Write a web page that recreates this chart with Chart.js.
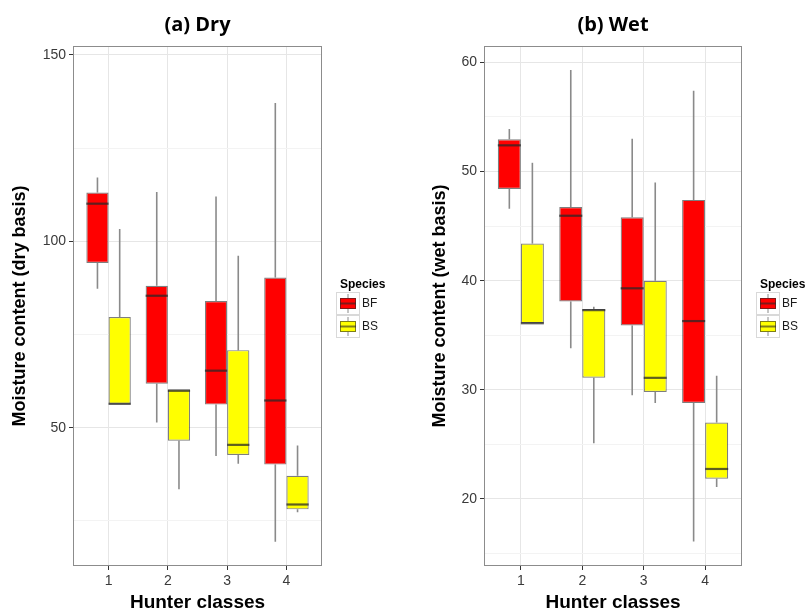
<!DOCTYPE html>
<html>
<head>
<meta charset="utf-8">
<script src="https://cdn.jsdelivr.net/npm/chart.js@4.4.0/dist/chart.umd.min.js"></script>
<style>
  body { margin: 0; background: #fff; }
  #wrap { position: relative; width: 805px; height: 612px; overflow: hidden; }
  canvas { position: absolute; top: 0; }
</style>
</head>
<body>
<div id="wrap">
  <canvas id="dry" width="400" height="612" style="left:0"></canvas>
  <canvas id="wet" width="385" height="612" style="left:420px"></canvas>
</div>
<script>
const hunterClasses = [1, 2, 3, 4];
const species = ["BF", "BS"];
const speciesColors = ["#ff0000", "#ffff00"];

// per hunter class: [lower whisker, Q1, median, Q3, upper whisker]
const dryBF = [[87.3, 94.2, 110.1, 113.1, 117.1], [51.4, 61.8, 85.4, 88.1, 113.2], [42.4, 56.2, 65.3, 84.0, 112.0], [19.4, 40.1, 57.3, 90.3, 137.1]];
const dryBS = [[56.4, 56.4, 56.4, 79.7, 103.3], [33.5, 46.5, 59.9, 60.3, 60.3], [40.3, 42.7, 45.4, 70.8, 96.1], [27.3, 28.1, 29.4, 37.1, 45.2]];
const wetBF = [[46.6, 48.4, 52.4, 52.95, 53.9], [33.8, 38.1, 45.95, 46.75, 59.3], [29.5, 35.9, 39.3, 45.8, 53.0], [16.1, 28.8, 36.3, 47.4, 57.4]];
const wetBS = [[36.1, 36.1, 36.1, 43.4, 50.8], [25.1, 31.1, 37.3, 37.4, 37.6], [28.8, 29.8, 31.1, 40.0, 49.0], [21.1, 21.85, 22.75, 27.0, 31.3]];

const dryTicks = [25, 50, 75, 100, 125, 150];
const wetTicks = [15, 20, 25, 30, 35, 40, 45, 50, 55, 60];

const sans = "'Liberation Sans', Arial, sans-serif";
const outline = "rgba(40,40,40,0.6)";

const boxExtras = {
  id: "boxExtras",
  beforeDatasetsDraw(chart) {
    const { ctx, scales: { y } } = chart;
    ctx.save();
    ctx.strokeStyle = "#8a8a8a";
    ctx.lineWidth = 1.6;
    chart.data.datasets.forEach((ds, di) => {
      chart.getDatasetMeta(di).data.forEach((bar, i) => {
        const s = ds.stats[i];
        ctx.beginPath();
        ctx.moveTo(bar.x, y.getPixelForValue(s[4]));
        ctx.lineTo(bar.x, y.getPixelForValue(s[3]));
        ctx.moveTo(bar.x, y.getPixelForValue(s[1]));
        ctx.lineTo(bar.x, y.getPixelForValue(s[0]));
        ctx.stroke();
      });
    });
    ctx.restore();
  },
  afterDatasetsDraw(chart, args, opts) {
    const { ctx, chartArea: a, scales: { y } } = chart;
    ctx.save();
    // medians
    ctx.strokeStyle = "rgba(40,40,40,0.75)";
    ctx.lineWidth = 2.2;
    chart.data.datasets.forEach((ds, di) => {
      chart.getDatasetMeta(di).data.forEach((bar, i) => {
        const py = y.getPixelForValue(ds.stats[i][2]);
        ctx.beginPath();
        ctx.moveTo(bar.x - bar.width / 2, py);
        ctx.lineTo(bar.x + bar.width / 2, py);
        ctx.stroke();
      });
    });
    // panel border
    ctx.strokeStyle = "#8c8c8c";
    ctx.lineWidth = 1;
    ctx.strokeRect(a.left + 0.5, a.top + 0.5, a.right - a.left - 1, a.bottom - a.top - 1);

    // panel title, centred over the plot area
    ctx.fillStyle = "#000";
    ctx.font = "bold 20px 'Open Sans', sans-serif";
    ctx.textAlign = "center";
    ctx.textBaseline = "middle";
    ctx.fillText(opts.title, (a.left + a.right) / 2, 25);

    // legend
    const x0 = a.right + 18;
    const cy = (a.top + a.bottom) / 2;
    ctx.font = "bold 12px " + sans;
    ctx.textBaseline = "alphabetic";
    ctx.textAlign = "left";
    ctx.fillText("Species", x0, cy - 18);
    species.forEach((name, k) => {
      const top = cy - 14 + k * 23;
      ctx.strokeStyle = "#d9d9d9";
      ctx.lineWidth = 1;
      ctx.strokeRect(x0 - 3.5, top + 0.5, 23, 22);
      ctx.strokeStyle = "#8a8a8a";
      ctx.beginPath();
      ctx.moveTo(x0 + 8, top + 2);
      ctx.lineTo(x0 + 8, top + 21);
      ctx.stroke();
      ctx.fillStyle = speciesColors[k];
      ctx.fillRect(x0, top + 6, 16, 11);
      ctx.strokeStyle = outline;
      ctx.strokeRect(x0 + 0.5, top + 6.5, 15, 10);
      ctx.lineWidth = 2;
      ctx.beginPath();
      ctx.moveTo(x0, top + 11.5);
      ctx.lineTo(x0 + 16, top + 11.5);
      ctx.stroke();
      ctx.fillStyle = "#1a1a1a";
      ctx.font = "12px " + sans;
      ctx.textBaseline = "middle";
      ctx.fillText(name, x0 + 22, top + 12);
      ctx.textBaseline = "alphabetic";
    });
    ctx.restore();
  }
};

function makeBoxChart(id, title, yTitle, series, yMin, yMax, ticks, majorStep, axisWidth, padRight) {
  const isMajor = (v) => v % majorStep === 0;
  return new Chart(document.getElementById(id), {
    type: "bar",
    data: {
      datasets: series.map((s, k) => ({
        label: species[k],
        data: hunterClasses.map((c, i) => ({ x: c, y: [s[i][1], s[i][3]] })),
        stats: s,
        backgroundColor: speciesColors[k],
        borderColor: outline,
        borderWidth: 1.2,
        borderSkipped: false,
        categoryPercentage: 0.75,
        barPercentage: 1
      }))
    },
    options: {
      responsive: false,
      animation: false,
      layout: { padding: { left: 0, top: 46, right: padRight, bottom: 0 } },
      plugins: {
        legend: { display: false },
        tooltip: { enabled: false },
        title: { display: false },
        boxExtras: { title: title }
      },
      scales: {
        x: {
          type: "linear",
          min: 0.4,
          max: 4.6,
          offset: false,
          afterBuildTicks: (s) => { s.ticks = hunterClasses.map((v) => ({ value: v })); },
          afterFit: (s) => { s.height = 46; },
          grid: { color: "#e6e6e6", offset: false, tickLength: 4, tickColor: "#333" },
          border: { display: false },
          ticks: { color: "#3a3a3a", font: { family: sans, size: 14 }, padding: 3 },
          title: {
            display: true,
            text: "Hunter classes",
            color: "#000",
            font: { family: sans, size: 19, weight: "bold", lineHeight: 1 },
            padding: { top: 0, bottom: 0 }
          }
        },
        y: {
          min: yMin,
          max: yMax,
          beginAtZero: false,
          afterBuildTicks: (s) => { s.ticks = ticks.map((v) => ({ value: v })); },
          afterFit: (s) => { s.width = axisWidth; },
          grid: {
            color: (c) => (c.tick && isMajor(c.tick.value) ? "#e6e6e6" : "#f3f3f3"),
            tickLength: 4,
            tickColor: (c) => (c.tick && isMajor(c.tick.value) ? "#333" : "rgba(0,0,0,0)")
          },
          border: { display: false },
          ticks: {
            color: "#3a3a3a",
            font: { family: sans, size: 14 },
            padding: 3,
            callback: (v) => (isMajor(v) ? v : "")
          },
          title: {
            display: true,
            text: yTitle,
            color: "#000",
            font: { family: sans, size: 18, weight: "bold" },
            padding: { top: 9, bottom: 0 }
          }
        }
      }
    },
    plugins: [boxExtras]
  });
}

makeBoxChart("dry", "(a) Dry", "Moisture content (dry basis)", [dryBF, dryBS], 12.9, 152.4, dryTicks, 50, 73, 78);
makeBoxChart("wet", "(b) Wet", "Moisture content (wet basis)", [wetBF, wetBS], 13.86, 61.5, wetTicks, 10, 64, 63);
</script>
</body>
</html>
